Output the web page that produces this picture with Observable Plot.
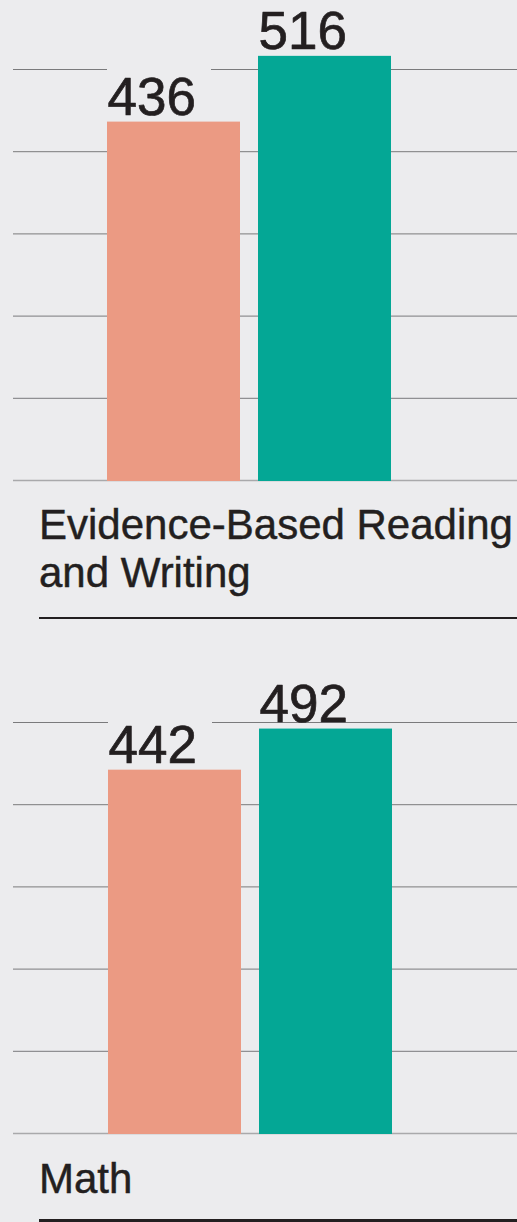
<!DOCTYPE html>
<html><head><meta charset="utf-8">
<script src="https://cdn.jsdelivr.net/npm/d3@7"></script>
<script src="https://cdn.jsdelivr.net/npm/@observablehq/plot@0.6"></script>
<style>
html,body{margin:0;padding:0;background:#ececee;}
#page{position:relative;width:517px;height:1222px;overflow:hidden;background:#ececee;font-family:"Liberation Sans",Arial,sans-serif;color:#231f20;}
.panel{position:absolute;left:0;}
.title{position:absolute;left:39px;font-size:42px;line-height:48px;white-space:pre;-webkit-text-stroke:0.45px #231f20;}
.rule{position:absolute;left:39px;right:0;background:#231f20;}
</style></head><body><div id="page"></div>
<script>
// Data
const series = ["Series A", "Series B"];
const sections = ["Evidence-Based Reading\nand Writing", "Math"];
const valuesA = [436, 442];
const valuesB = [516, 492];
const yTicks = [0, 100, 200, 300, 400, 500];
const colors = ["#eb9a83", "#04a795"];

const bg = "#ececee";
const ink = "#231f20";
const font = "'Liberation Sans', Arial, sans-serif";
const page = document.getElementById("page");

const layout = [
  {top: 0, height: 482, marginTop: 69, xRange: [107, 391], titleTop: 501, ruleTop: 617, ruleH: 2},
  {top: 640, height: 495, marginTop: 82, xRange: [108, 392], titleTop: 1155, ruleTop: 1219, ruleH: 3}
];

sections.forEach((name, i) => {
  const L = layout[i];
  const data = [
    {series: series[0], value: valuesA[i]},
    {series: series[1], value: valuesB[i]}
  ];
  const chart = Plot.plot({
    width: 517,
    height: L.height,
    marginTop: L.marginTop,
    marginBottom: 2,
    marginLeft: 13,
    marginRight: 0,
    style: {background: "transparent", fontFamily: font},
    x: {domain: series, range: L.xRange, paddingInner: 0.12, paddingOuter: 0, axis: null},
    y: {domain: [0, 500], axis: null},
    color: {domain: series, range: colors},
    marks: [
      Plot.ruleY(yTicks.filter(t => t > 0), {stroke: "#7a7a7c", strokeWidth: 1}),
      Plot.ruleY([0], {stroke: "#a9a9ab", strokeWidth: 1.6}),
      Plot.barY(data, {x: "series", y1: d => d.value + 12, y2: d => d.value + 70, fill: bg, insetRight: 29}),
      Plot.barY(data, {x: "series", y: "value", fill: "series", insetBottom: -1}),
      Plot.text(data, {
        x: "series", y: "value", text: d => String(d.value),
        textAnchor: "start", dx: -66.5, dy: -7, lineAnchor: "bottom",
        fontSize: 53, fill: ink, stroke: ink, strokeWidth: 0.7, fontFamily: font
      })
    ]
  });
  chart.classList.add("panel");
  chart.style.top = L.top + "px";
  page.appendChild(chart);

  const t = document.createElement("div");
  t.className = "title";
  t.style.top = L.titleTop + "px";
  t.textContent = name;
  page.appendChild(t);

  const r = document.createElement("div");
  r.className = "rule";
  r.style.top = L.ruleTop + "px";
  r.style.height = L.ruleH + "px";
  page.appendChild(r);
});
</script></body></html>
